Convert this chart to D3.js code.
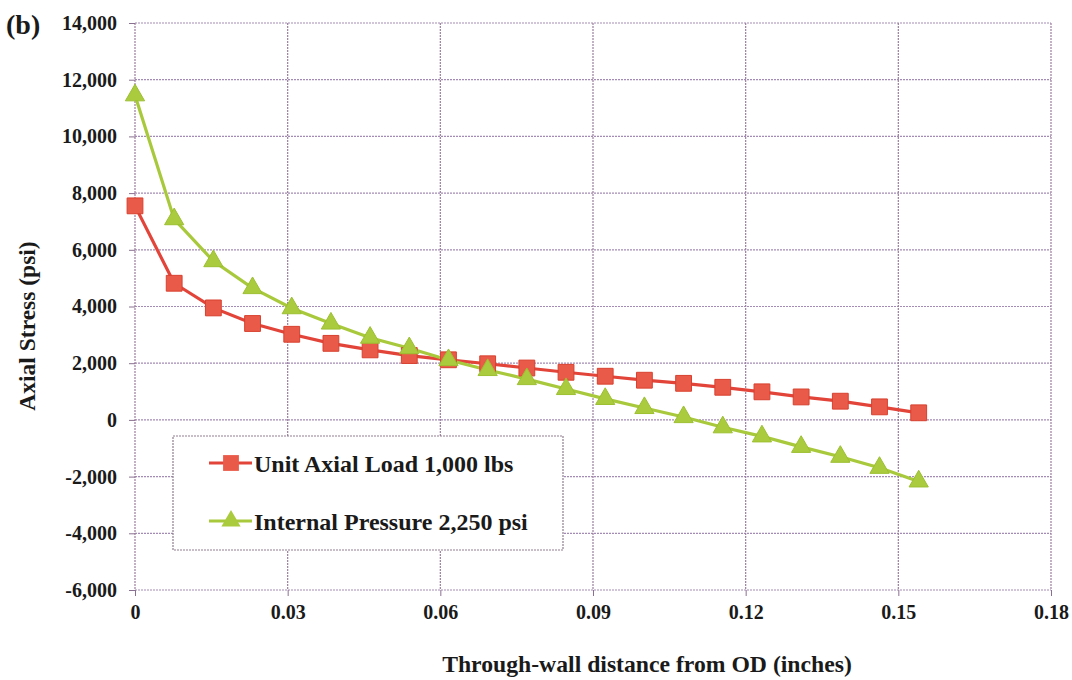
<!DOCTYPE html>
<html>
<head>
<meta charset="utf-8">
<script src="https://cdn.jsdelivr.net/npm/d3@7"></script>
<style>
  body { margin: 0; background: #fff; }
</style>
</head>
<body>
<svg id="chart" width="1072" height="680"></svg>
<script>
// Through-wall distance (inches)
const distance = [0, 0.0077, 0.0154, 0.0231, 0.0308, 0.0385, 0.0462, 0.0539, 0.0616, 0.0693, 0.077,
                  0.0847, 0.0924, 0.1001, 0.1078, 0.1155, 0.1232, 0.1309, 0.1386, 0.1463, 0.154];
const unitAxialLoad = [7550, 4820, 3950, 3400, 3020, 2700, 2470, 2270, 2120, 1980, 1830,
                       1680, 1540, 1400, 1290, 1150, 990, 810, 660, 460, 250];
const internalPressure = [11450, 7080, 5600, 4650, 3940, 3400, 2900, 2530, 2110, 1760, 1440,
                          1090, 740, 420, 100, -260, -580, -950, -1300, -1690, -2170];
const xTicks = [0, 0.03, 0.06, 0.09, 0.12, 0.15, 0.18];
const yTicks = [-6000, -4000, -2000, 0, 2000, 4000, 6000, 8000, 10000, 12000, 14000];
const seriesNames = ['Unit Axial Load 1,000 lbs', 'Internal Pressure 2,250 psi'];

const FONT = '"Liberation Serif", "DejaVu Serif", serif';

const svg = d3.select('#chart');
const margin = { left: 135, right: 21, top: 23, bottom: 90 };
const width = 1072, height = 680;

const x = d3.scaleLinear().domain([0, 0.18]).range([margin.left, width - margin.right]);
const y = d3.scaleLinear().domain([-6000, 14000]).range([height - margin.bottom, margin.top]);

// gridlines
svg.append('g')
    .selectAll('line')
    .data(yTicks)
    .join('line')
    .attr('x1', x(0)).attr('x2', x(0.18))
    .attr('y1', d => y(d)).attr('y2', d => y(d))
    .attr('stroke', '#a48bb6')
    .attr('stroke-width', 1.2)
    .attr('stroke-dasharray', '2,1');

svg.append('g')
    .selectAll('line')
    .data(xTicks)
    .join('line')
    .attr('x1', d => x(d)).attr('x2', d => x(d))
    .attr('y1', y(14000)).attr('y2', y(-6000))
    .attr('stroke', '#9c7f9c')
    .attr('stroke-width', 1.2)
    .attr('stroke-dasharray', '2,1');

// axes
const yAxis = svg.append('g')
    .attr('transform', `translate(${x(0)},0)`)
    .call(d3.axisLeft(y).tickValues(yTicks).tickSize(6).tickPadding(12)
        .tickFormat(d => d3.format(',')(d).replace('−', '-')));
yAxis.attr('font-family', FONT).attr('font-size', 20).attr('font-weight', 'bold');
yAxis.select('.domain').remove();
yAxis.selectAll('line').attr('stroke', '#8a7090');
yAxis.selectAll('text').attr('fill', '#1a1a1a');

const xAxis = svg.append('g')
    .attr('transform', `translate(0,${y(-6000)})`)
    .call(d3.axisBottom(x).tickValues(xTicks).tickSize(6).tickPadding(9)
        .tickFormat(d => d === 0 ? '0' : d3.format('.2f')(d)));
xAxis.attr('font-family', FONT).attr('font-size', 20).attr('font-weight', 'bold');
xAxis.select('.domain').remove();
xAxis.selectAll('line').attr('stroke', '#8a7090');
xAxis.selectAll('text').attr('fill', '#1a1a1a');

// titles
const titles = svg.append('g')
    .attr('font-family', FONT).attr('font-weight', 'bold').attr('fill', '#1a1a1a');

titles.append('text')
    .attr('x', 647)
    .attr('y', 672)
    .attr('text-anchor', 'middle')
    .attr('font-size', 23.7)
    .text('Through-wall distance from OD (inches)');

titles.append('text')
    .attr('transform', 'translate(35,326) rotate(-90)')
    .attr('text-anchor', 'middle')
    .attr('font-size', 23.5)
    .text('Axial Stress (psi)');

titles.append('text')
    .attr('x', 6).attr('y', 34)
    .attr('font-size', 28)
    .text('(b)');

// series
const redLine = '#e2443a', redFill = '#ea5a48';
const greenLine = '#a9c93c', greenFill = '#abcb3e';

const line = d3.line().x(d => x(d[0])).y(d => y(d[1]));
const redData = distance.map((d, i) => [d, unitAxialLoad[i]]);
const greenData = distance.map((d, i) => [d, internalPressure[i]]);

svg.append('path').datum(redData)
    .attr('d', line).attr('fill', 'none')
    .attr('stroke', redLine).attr('stroke-width', 3.2);
svg.append('path').datum(greenData)
    .attr('d', line).attr('fill', 'none')
    .attr('stroke', greenLine).attr('stroke-width', 3.2);

const sq = d3.symbol().type(d3.symbolSquare).size(250);
const tri = d3.symbol().type(d3.symbolTriangle).size(160);

svg.append('g').selectAll('path')
    .data(redData)
    .join('path')
    .attr('d', sq)
    .attr('transform', d => `translate(${x(d[0])},${y(d[1])})`)
    .attr('fill', redFill)
    .attr('stroke', '#d8402f').attr('stroke-width', 1);

svg.append('g').selectAll('path')
    .data(greenData)
    .join('path')
    .attr('d', tri)
    .attr('transform', d => `translate(${x(d[0])},${y(d[1])})`)
    .attr('fill', greenFill)
    .attr('stroke', '#9cbf30').attr('stroke-width', 1);

// legend
const legend = svg.append('g');
legend.append('rect')
    .attr('x', 173).attr('y', 436)
    .attr('width', 390).attr('height', 114)
    .attr('fill', '#fff')
    .attr('stroke', '#8f7f8f').attr('stroke-width', 1.2)
    .attr('stroke-dasharray', '2,1');

const items = [
    { name: seriesNames[0], color: redLine, fill: redFill, sym: sq, cy: 463 },
    { name: seriesNames[1], color: greenLine, fill: greenFill, sym: tri, cy: 521 }
];
items.forEach(it => {
    legend.append('line')
        .attr('x1', 209).attr('x2', 252)
        .attr('y1', it.cy).attr('y2', it.cy)
        .attr('stroke', it.color).attr('stroke-width', 3);
    legend.append('path')
        .attr('d', it.sym)
        .attr('transform', `translate(231,${it.cy})`)
        .attr('fill', it.fill);
    legend.append('text')
        .attr('x', 254).attr('y', it.cy + 9)
        .attr('font-family', FONT).attr('font-weight', 'bold')
        .attr('font-size', 24).attr('fill', '#1a1a1a')
        .text(it.name);
});
</script>
</body>
</html>
